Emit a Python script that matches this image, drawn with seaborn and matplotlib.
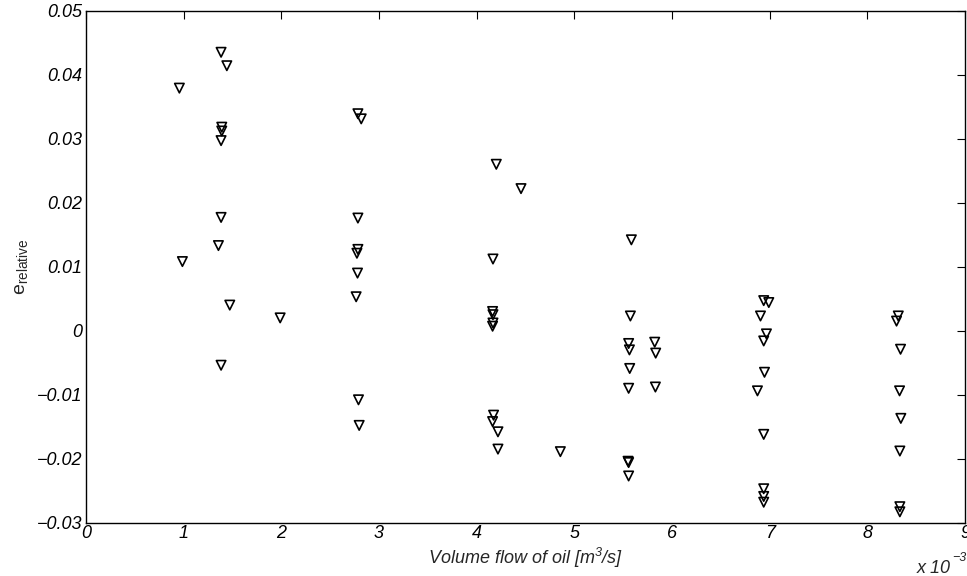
import matplotlib
matplotlib.use("Agg")
import matplotlib.pyplot as plt
import seaborn as sns
import pandas as pd

# ---- data (x in units of 1e-3 m^3/s) ----
flow_1 = [0.956, 0.987]
err_1 = [0.0379, 0.0108]

flow_14 = [1.383, 1.442, 1.390, 1.390, 1.383, 1.383, 1.356, 1.472, 1.383]
err_14 = [0.0435, 0.0414, 0.0318, 0.0312, 0.0297, 0.0177, 0.0133, 0.0040, -0.0054]

flow_2 = [1.988]
err_2 = [0.0020]

flow_28 = [2.784, 2.818, 2.784, 2.784, 2.774, 2.780, 2.766, 2.790, 2.797]
err_28 = [0.0339, 0.0331, 0.0176, 0.0127, 0.0121, 0.0090, 0.0053, -0.0108, -0.0148]

flow_42 = [4.201, 4.454, 4.167, 4.163, 4.167, 4.167, 4.163, 4.173, 4.163, 4.218, 4.218, 4.857]
err_42 = [0.0260, 0.0222, 0.0112, 0.0030, 0.0025, 0.0012, 0.0007, -0.0132, -0.0142, -0.0158, -0.0185, -0.0189]

flow_56 = [5.584, 5.574, 5.556, 5.564, 5.567, 5.556, 5.550, 5.556, 5.556]
err_56 = [0.0142, 0.0023, -0.0020, -0.0030, -0.0059, -0.0090, -0.0204, -0.0206, -0.0227]

flow_58 = [5.823, 5.833, 5.830]
err_58 = [-0.0018, -0.0035, -0.0088]

flow_69 = [6.939, 6.991, 6.906, 6.967, 6.939, 6.947, 6.875, 6.939, 6.939, 6.939, 6.939]
err_69 = [0.0047, 0.0044, 0.0023, -0.0005, -0.0016, -0.0065, -0.0094, -0.0162, -0.0247, -0.0259, -0.0268]

flow_83 = [8.317, 8.299, 8.340, 8.330, 8.343, 8.333, 8.333, 8.333]
err_83 = [0.0023, 0.0015, -0.0029, -0.0094, -0.0137, -0.0188, -0.0275, -0.0283]

x_ticks = [0, 1, 2, 3, 4, 5, 6, 7, 8, 9]
x_tick_labels = ["0", "1", "2", "3", "4", "5", "6", "7", "8", "9"]
y_ticks = [-0.03, -0.02, -0.01, 0, 0.01, 0.02, 0.03, 0.04, 0.05]
y_tick_labels = ["\u22120.03", "\u22120.02", "\u22120.01", "0", "0.01", "0.02", "0.03", "0.04", "0.05"]

flow = flow_1 + flow_14 + flow_2 + flow_28 + flow_42 + flow_56 + flow_58 + flow_69 + flow_83
err = err_1 + err_14 + err_2 + err_28 + err_42 + err_56 + err_58 + err_69 + err_83
df = pd.DataFrame({"flow": flow, "err": err})

sns.set_style("white")
plt.rcParams["font.family"] = ["Liberation Sans", "DejaVu Sans"]
plt.rcParams["mathtext.fontset"] = "custom"
plt.rcParams["mathtext.rm"] = "Liberation Sans"
plt.rcParams["mathtext.it"] = "Liberation Sans:italic"

fig = plt.figure(figsize=(9.67, 5.76), dpi=100)
ax = fig.add_axes([86 / 967, (576 - 522.7) / 576, (965 - 86) / 967, (522.7 - 10.7) / 576])

sns.scatterplot(data=df, x="flow", y="err", ax=ax, marker="v", s=46,
                color="black", facecolor="none", edgecolor="black", linewidth=1.2)
for c in ax.collections:
    c.set_facecolor("none")
    c.set_edgecolor("black")

ax.set_xlim(0, 9)
ax.set_ylim(-0.03, 0.05)
ax.set_xticks(x_ticks)
ax.set_xticklabels(x_tick_labels, fontsize=13, fontstyle="italic")
ax.set_yticks(y_ticks)
ax.set_yticklabels(y_tick_labels, fontsize=13, fontstyle="italic")
ax.tick_params(axis="both", direction="in", length=6, width=0.8, color="black",
               top=True, right=True, labelcolor="black")
ax.tick_params(axis="x", pad=2)
ax.tick_params(axis="y", pad=2.5)
for sp in ax.spines.values():
    sp.set_visible(True)
    sp.set_color("black")
    sp.set_linewidth(1.0)

ax.set_xlabel("Volume flow of oil [m$^{\\mathregular{3}}$/s]", fontsize=13, fontstyle="italic")
ax.xaxis.set_label_coords(0.5, -0.045)
ax.set_ylabel(r"$\mathregular{e_{relative}}$", fontsize=14)
ax.yaxis.set_label_coords(-0.064, 0.5)

fig.text(951 / 967, 1 - 573 / 576, "x 10", fontsize=13, fontstyle="italic",
         ha="right", va="baseline")
fig.text(952 / 967, 1 - 561 / 576, "\u22123", fontsize=9, fontstyle="italic",
         ha="left", va="baseline")

fig.savefig("out.png", dpi=100)
